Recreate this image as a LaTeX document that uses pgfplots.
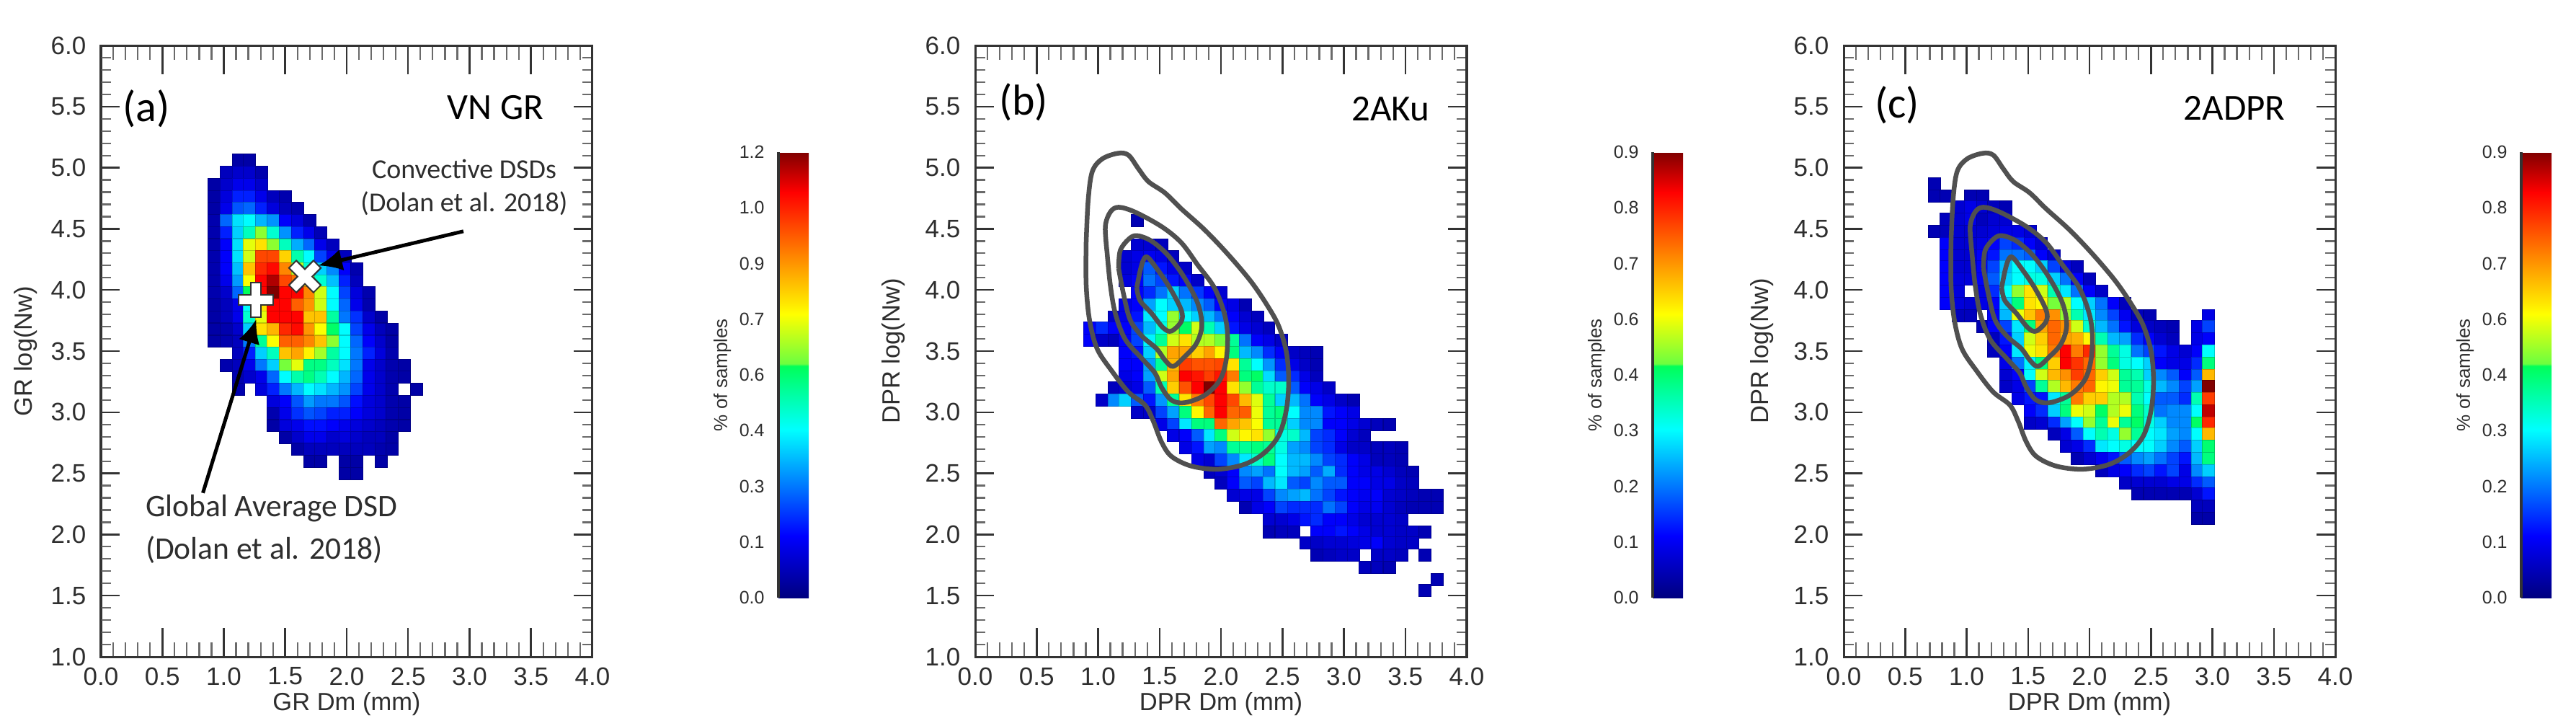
\documentclass[border=0pt]{standalone}
\usepackage{pgfplots}
\usepackage{pgfplotstable}
\usepackage{fontspec}
\pgfplotsset{compat=1.18}
\usetikzlibrary{arrows.meta}
\setmainfont{Liberation Sans}
\newfontfamily\callout{Carlito}

\definecolor{axisc}{HTML}{333333}
\definecolor{minorc}{HTML}{6A6A6A}
\definecolor{textc}{HTML}{2E2E2E}
\definecolor{contc}{HTML}{505050}

% panel (a): rows are log(Nw), columns are Dm, cell values in 1/100 of a percent
\pgfplotstableread[header=true]{
y 0.92 1.02 1.12 1.21 1.31  1.40 1.50 1.60 1.70 1.79  1.89 1.99 2.08 2.18 2.28  2.37 2.47 2.57
5.06 0 0 5 5 0  0 0 0 0 0  0 0 0 0 0  0 0 0
4.96 0 8 10 10 6  0 0 0 0 0  0 0 0 0 0  0 0 0
4.86 5 10 14 14 10  0 0 0 0 0  0 0 0 0 0  0 0 0
4.76 5 12 20 20 14  8 6 0 0 0  0 0 0 0 0  0 0 0
4.67 5 14 26 28 20  12 8 6 0 0  0 0 0 0 0  0 0 0
4.57 6 28 42 45 37  33 16 12 6 0  0 0 0 0 0  0 0 0
4.47 6 20 40 52 66  50 33 20 14 7  0 0 0 0 0  0 0 0
4.37 6 16 42 74 80  66 52 36 28 14  8 0 0 0 0  0 0 0
4.27 6 16 42 72 100  100 82 54 45 24  14 8 0 0 0  0 0 0
4.17 6 16 38 84 104  108 92 70 50 40  32 16 6 0 0  0 0 0
4.07 6 14 34 76 109  116 100 95 80 50  38 20 8 0 0  0 0 0
3.98 6 10 28 62 109  120 109 109 92 72  45 24 12 6 0  0 0 0
3.88 5 8 14 45 80  109 109 97 90 72  45 28 14 6 0  0 0 0
3.78 5 8 14 50 74  109 109 109 84 84  55 30 22 10 5  0 0 0
3.68 5 6 10 40 80  86 104 108 90 76  61 45 24 14 8  5 0 0
3.58 5 6 8 30 56  76 97 97 92 84  66 45 28 16 10  5 0 0
3.48 0 0 8 20 40  52 84 88 78 68  55 45 30 20 12  6 0 0
3.38 0 6 8 14 30  40 64 74 58 58  52 42 30 14 10  6 5 0
3.29 0 0 6 10 14  28 45 54 58 53  45 37 28 14 10  6 5 0
3.19 0 0 6 0 12  20 30 37 45 42  37 33 24 14 10  6 0 5
3.09 0 0 0 0 0  12 16 26 34 30  30 26 18 12 10  6 5 0
2.99 0 0 0 0 0  6 14 22 26 24  20 20 16 12 10  6 5 0
2.89 0 0 0 0 0  5 12 14 18 18  16 14 12 10 8  6 5 0
2.79 0 0 0 0 0  0 5 10 14 14  10 12 10 8 8  5 0 0
2.70 0 0 0 0 0  0 0 5 8 8  8 8 8 8 6  5 0 0
2.60 0 0 0 0 0  0 0 0 5 5  0 5 5 0 5  0 0 0
2.50 0 0 0 0 0  0 0 0 0 0  0 5 5 0 0  0 0 0
}\tabA

% panel (b)
\pgfplotstableread[header=true]{
y 0.93 1.03 1.13 1.22 1.32  1.42 1.52 1.61 1.71 1.81  1.91 2.00 2.10 2.20 2.30  2.39 2.49 2.59 2.69 2.78  2.88 2.98 3.08 3.17 3.27  3.37 3.47 3.56 3.66 3.76
4.57 0 0 0 0 5  0 0 0 0 0  0 0 0 0 0  0 0 0 0 0  0 0 0 0 0  0 0 0 0 0
4.37 0 0 0 0 8  8 6 0 0 0  0 0 0 0 0  0 0 0 0 0  0 0 0 0 0  0 0 0 0 0
4.27 0 0 0 8 10  11 10 6 0 0  0 0 0 0 0  0 0 0 0 0  0 0 0 0 0  0 0 0 0 0
4.18 0 0 0 8 10  20 14 10 7 0  0 0 0 0 0  0 0 0 0 0  0 0 0 0 0  0 0 0 0 0
4.08 0 0 0 9 12  22 18 14 12 7  0 0 0 0 0  0 0 0 0 0  0 0 0 0 0  0 0 0 0 0
3.98 0 0 0 0 12  16 22 30 22 17  12 8 0 0 0  0 0 0 0 0  0 0 0 0 0  0 0 0 0 0
3.88 0 0 0 10 12  26 34 30 28 24  20 12 10 5 0  0 0 0 0 0  0 0 0 0 0  0 0 0 0 0
3.78 0 0 7 10 14  32 34 50 34 30  28 22 12 8 6  0 0 0 0 0  0 0 0 0 0  0 0 0 0 0
3.69 12 16 12 12 18  28 36 50 46 54  40 30 14 10 8  6 0 0 0 0  0 0 0 0 0  0 0 0 0 0
3.59 12 7 6 12 18  33 42 54 60 52  52 48 42 22 12  10 7 0 0 0  0 0 0 0 0  0 0 0 0 0
3.49 0 0 0 12 14  30 52 66 66 62  66 58 44 28 24  16 12 7 6 5  0 0 0 0 0  0 0 0 0 0
3.39 0 0 0 12 12  26 42 64 76 74  74 75 60 42 34  25 16 10 7 5  0 0 0 0 0  0 0 0 0 0
3.29 0 0 0 10 12  26 54 66 82 80  76 80 70 44 46  31 20 16 10 6  0 0 0 0 0  0 0 0 0 0
3.20 0 0 6 8 10  20 40 62 74 82  90 82 60 50 42  38 38 20 12 10  7 0 0 0 0  0 0 0 0 0
3.10 0 7 24 30 20  14 25 42 60 70  75 82 75 64 55  42 30 28 22 12  10 7 5 0 0  0 0 0 0 0
3.00 0 0 0 0 7  7 18 26 44 58  72 82 72 73 56  42 44 34 24 24  14 12 10 0 0  0 0 0 0 0
2.90 0 0 0 0 0  0 10 18 32 44  44 72 66 63 57  42 42 30 24 24  12 12 10 8 6  5 0 0 0 0
2.81 0 0 0 0 0  0 0 10 12 20  32 44 54 58 60  50 36 38 28 18  16 12 8 6 0  0 0 0 0 0
2.71 0 0 0 0 0  0 0 0 10 14  26 24 42 42 44  42 36 26 24 18  16 10 7 7 6  6 5 0 0 0
2.61 0 0 0 0 0  0 0 0 0 10  8 18 24 32 38  44 34 28 28 24  18 16 12 10 6  6 5 0 0 0
2.51 0 0 0 0 0  0 0 0 0 0  6 8 12 24 26  22 34 28 26 20  27 16 12 10 10  8 6 5 0 0
2.42 0 0 0 0 0  0 0 0 0 0  0 6 12 20 18  28 32 20 18 24  20 20 12 12 10  10 7 6 0 0
2.32 0 0 0 0 0  0 0 0 0 0  0 0 8 10 10  18 24 26 28 22  18 14 12 11 12  8 7 6 5 5
2.22 0 0 0 0 0  0 0 0 0 0  0 0 0 5 10  12 18 16 16 16  22 18 12 10 11  8 6 5 5 5
2.12 0 0 0 0 0  0 0 0 0 0  0 0 0 0 0  8 8 10 14 16  12 12 10 8 8  8 7 0 0 0
2.02 0 0 0 0 0  0 0 0 0 0  0 0 0 0 0  5 6 6 0 12  12 14 12 10 8  8 7 7 5 0
1.93 0 0 0 0 0  0 0 0 0 0  0 0 0 0 0  0 0 0 7 7  8 8 9 10 12  8 7 7 0 0
1.83 0 0 0 0 0  0 0 0 0 0  0 0 0 0 0  0 0 0 0 5  6 7 7 0 7  7 6 0 5 0
1.73 0 0 0 0 0  0 0 0 0 0  0 0 0 0 0  0 0 0 0 0  0 0 0 6 6  5 0 0 0 0
1.63 0 0 0 0 0  0 0 0 0 0  0 0 0 0 0  0 0 0 0 0  0 0 0 0 0  0 0 0 0 5
1.54 0 0 0 0 0  0 0 0 0 0  0 0 0 0 0  0 0 0 0 0  0 0 0 0 0  0 0 0 5 0
}\tabB

% panel (c)
\pgfplotstableread[header=true]{
y 0.74 0.83 0.93 1.03 1.13  1.22 1.32 1.42 1.52 1.61  1.71 1.81 1.90 2.00 2.10  2.20 2.29 2.39 2.49 2.58  2.68 2.78 2.88 2.97
4.87 5 0 0 0 0  0 0 0 0 0  0 0 0 0 0  0 0 0 0 0  0 0 0 0
4.77 5 5 0 5 5  0 0 0 0 0  0 0 0 0 0  0 0 0 0 0  0 0 0 0
4.68 0 0 8 10 8  6 5 0 0 0  0 0 0 0 0  0 0 0 0 0  0 0 0 0
4.58 0 6 8 10 6  8 8 0 0 0  0 0 0 0 0  0 0 0 0 0  0 0 0 0
4.48 5 6 8 8 8  9 10 10 8 0  0 0 0 0 0  0 0 0 0 0  0 0 0 0
4.38 0 12 8 8 10  12 18 16 12 8  0 0 0 0 0  0 0 0 0 0  0 0 0 0
4.28 0 12 8 8 12  14 22 22 20 12  8 0 0 0 0  0 0 0 0 0  0 0 0 0
4.19 0 12 8 8 12  18 28 34 34 30  18 10 6 0 0  0 0 0 0 0  0 0 0 0
4.09 0 12 9 9 12  20 30 34 36 36  30 22 12 6 0  0 0 0 0 0  0 0 0 0
3.99 0 12 9 0 10  16 34 50 60 54  40 32 22 12 7  0 0 0 0 0  0 0 0 0
3.89 0 12 9 8 10  12 30 44 60 58  48 52 34 30 22  12 6 0 0 0  0 0 0 0
3.79 0 0 6 6 0  12 28 56 63 70  68 50 40 32 24  18 11 6 5 0  0 0 0 10
3.70 0 0 0 0 5  12 18 32 44 66  72 68 54 38 28  22 14 9 7 6  5 0 10 18
3.60 0 0 0 0 0  6 14 30 54 62  72 66 65 58 40  28 26 16 12 8  6 0 10 12
3.50 0 0 0 0 0  6 12 32 56 60  70 82 70 78 50  42 36 22 18 14  10 8 12 34
3.40 0 0 0 0 0  0 10 22 33 44  62 82 77 72 50  44 36 34 30 12  10 10 16 44
3.30 0 0 0 0 0  0 8 12 34 54  64 68 76 72 62  54 42 40 30 24  20 12 20 64
3.21 0 0 0 0 0  0 7 10 18 42  52 64 70 72 58  56 42 42 36 28  24 18 26 90
3.11 0 0 0 0 0  0 0 10 14 14  32 42 70 62 62  52 52 40 34 20  20 16 40 76
3.01 0 0 0 0 0  0 0 0 12 16  30 44 56 54 46  52 56 44 38 22  24 24 34 86
2.91 0 0 0 0 0  0 0 0 7 8  16 26 34 50 42  56 42 46 36 30  24 24 46 78
2.82 0 0 0 0 0  0 0 0 0 0  6 10 20 34 40  36 50 42 34 32  26 24 34 64
2.72 0 0 0 0 0  0 0 0 0 0  0 8 10 16 32  34 36 34 34 30  24 20 30 45
2.62 0 0 0 0 0  0 0 0 0 0  0 0 5 8 11  14 20 24 26 22  18 14 28 44
2.52 0 0 0 0 0  0 0 0 0 0  0 0 0 0 6  10 12 16 18 14  18 10 24 30
2.42 0 0 0 0 0  0 0 0 0 0  0 0 0 0 0  0 7 8 8 8  10 10 16 20
2.33 0 0 0 0 0  0 0 0 0 0  0 0 0 0 0  0 0 5 5 5  5 5 8 14
2.23 0 0 0 0 0  0 0 0 0 0  0 0 0 0 0  0 0 0 0 0  0 0 6 6
2.13 0 0 0 0 0  0 0 0 0 0  0 0 0 0 0  0 0 0 0 0  0 0 4 4
}\tabC

% VN GR contours, drawn over panels (b) and (c)
\pgfplotstableread{
x y
0.903 4.387
0.919 4.729
0.952 4.966
1.032 5.071
1.161 5.118
1.247 5.103
1.328 4.992
1.409 4.887
1.543 4.795
1.677 4.664
1.866 4.493
2.054 4.295
2.242 4.072
2.376 3.875
2.470 3.704
2.532 3.493
2.551 3.257
2.532 3.020
2.470 2.810
2.349 2.665
2.188 2.573
1.973 2.534
1.758 2.560
1.597 2.639
1.516 2.757
1.449 2.928
1.382 3.059
1.247 3.165
1.113 3.336
0.992 3.520
0.930 3.756
0.903 4.045
0.903 4.387
}\contA
\pgfplotstableread{
x y
1.073 4.308
1.059 4.519
1.099 4.637
1.167 4.677
1.301 4.637
1.516 4.519
1.677 4.387
1.812 4.203
1.946 4.019
2.027 3.809
2.054 3.625
2.040 3.414
1.987 3.257
1.866 3.138
1.704 3.078
1.597 3.099
1.516 3.204
1.462 3.322
1.355 3.441
1.220 3.598
1.140 3.809
1.099 4.045
1.073 4.308
}\contB
\pgfplotstableread{
x y
1.167 4.177
1.180 4.322
1.247 4.414
1.315 4.445
1.435 4.400
1.570 4.282
1.704 4.098
1.812 3.888
1.844 3.704
1.798 3.559
1.704 3.454
1.610 3.375
1.543 3.428
1.476 3.520
1.355 3.625
1.261 3.756
1.207 3.967
1.167 4.177
}\contC
\pgfplotstableread{
x y
1.315 4.019
1.341 4.151
1.368 4.243
1.401 4.269
1.476 4.177
1.583 4.019
1.677 3.835
1.677 3.743
1.597 3.664
1.530 3.690
1.435 3.809
1.341 3.914
1.315 4.019
}\contD

\pgfplotsset{
  colormap={idl}{rgb(0pt)=(0,0,0.5); rgb(138pt)=(0,0,1); rgb(377pt)=(0,1,1); rgb(520pt)=(0,1,0.35); rgb(525pt)=(0.42,1,0.25); rgb(636pt)=(1,1,0); rgb(910pt)=(1,0,0); rgb(1000pt)=(0.5,0,0)},
  panel/.style={
    scale only axis, width=136.4pt, height=169.6pt,
    xmin=0, xmax=4, ymin=1, ymax=6,
    tick align=inside, clip marker paths=true,
    axis line style={line width=0.6pt, draw=axisc},
    major tick style={line width=0.5pt, draw=axisc},
    minor tick style={line width=0.45pt, draw=minorc},
    tick label style={font=\fontsize{7}{8}\selectfont, text=textc},
    label style={font=\fontsize{6.9}{8}\selectfont, text=textc},
  },
  xpanel/.style={panel,
    xtick={0,0.5,...,4}, xticklabels={0.0,0.5,1.0,1.5,2.0,2.5,3.0,3.5,4.0},
    minor x tick num=4, ytick=\empty,
    major tick length=8pt, minor tick length=4pt,
    xticklabel style={yshift=0.6pt},
    x label style={at={(axis description cs:0.5,-0.077)}, anchor=center},
  },
  ypanel/.style={panel,
    ytick={1,1.5,...,6}, yticklabels={1.0,1.5,2.0,2.5,3.0,3.5,4.0,4.5,5.0,5.5,6.0},
    minor y tick num=4, xtick=\empty,
    major tick length=5.2pt, minor tick length=2.8pt,
    yticklabel style={xshift=-0.6pt},
  },
  bar/.style={
    colorbar,
    colorbar style={
      at={(parent axis.south west)}, anchor=south west, xshift=179.5pt, yshift=16.4pt,
      scale only axis, width=8.4pt, height=123.6pt,
      axis line style={draw=none},
      ticklabel pos=left, major tick length=0pt,
      yticklabel style={font=\fontsize{5}{6}\selectfont, text=textc, xshift=-0.4pt},
      ylabel={\% of samples},
      ylabel style={font=\fontsize{5.2}{6}\selectfont, text=textc,
        at={(axis description cs:-1.86,0.5)}, anchor=center},
      after end axis/.code={\draw[axisc, line width=0.7pt] (rel axis cs:0,0) -- (rel axis cs:0,1);},
      #1
    },
  },
  cell/.style={scatter, only marks, mark=square*, mark size=1.69pt,
    point meta=explicit, mark options={line width=0pt}, forget plot},
  cont/.style={smooth, tension=0.55, draw=contc, line width=1.3pt, line join=round, forget plot},
}

\newcommand{\cells}[2]{%
  \pgfplotsinvokeforeach{#1}{%
    \addplot[cell] table[x expr=##1, y expr={\thisrow{##1}>0 ? \thisrow{y} : nan}, meta expr={\thisrow{##1}/100}] {#2};
  }%
}

\newcommand{\tag}[1]{\fontsize{12}{14}\selectfont\callout #1}
\newcommand{\name}[1]{\fontsize{10.2}{12}\selectfont\callout #1}

\begin{document}
\begin{tikzpicture}
\useasboundingbox (0,0) rectangle (714.8pt,201.2pt);

% ---- (a)
\begin{axis}[xpanel, name=a, at={(28pt,19pt)}, anchor=south west,
    xlabel={GR Dm (mm)}, point meta min=0, point meta max=1.2,
    bar={ytick={0,0.15,...,1.2}, yticklabels={0.0,0.1,0.3,0.4,0.6,0.7,0.9,1.0,1.2}}]
  \cells{0.92,1.02,1.12,1.21,1.31,1.40,1.50,1.60,1.70,1.79,1.89,1.99,2.08,2.18,2.28,2.37,2.47,2.57}{\tabA}
  \addplot[only marks, mark=+, mark size=5pt, mark options={draw=axisc, line width=3.3pt}, forget plot] coordinates {(1.26,3.92)};
  \addplot[only marks, mark=+, mark size=4.6pt, mark options={draw=white, line width=2.4pt}, forget plot] coordinates {(1.26,3.92)};
  \addplot[only marks, mark=x, mark size=5pt, mark options={draw=axisc, line width=3.3pt}, forget plot] coordinates {(1.66,4.11)};
  \addplot[only marks, mark=x, mark size=4.6pt, mark options={draw=white, line width=2.4pt}, forget plot] coordinates {(1.66,4.11)};
  \draw[-{Latex[length=6.6pt,width=6pt]}, line width=1pt] (axis cs:0.83,2.34) -- (axis cs:1.264,3.76);
  \draw[-{Latex[length=6.6pt,width=6pt]}, line width=1pt] (axis cs:2.95,4.48) -- (axis cs:1.77,4.20);
  \node[text=black] at (axis cs:0.37,5.484) {\tag{(a)}};
  \node[text=black] at (axis cs:3.21,5.49) {\name{VN GR}};
  \node[text=textc, font=\fontsize{7.6}{9}\selectfont\callout] at (axis cs:2.956,4.99) {Convective DSDs};
  \node[text=textc, font=\fontsize{7.6}{9}\selectfont\callout] at (axis cs:2.956,4.706) {(Dolan et al. 2018)};
  \node[text=textc, anchor=west, inner sep=0pt, font=\fontsize{8.7}{10}\selectfont\callout] at (axis cs:0.358,2.212) {Global Average DSD};
  \node[text=textc, anchor=west, inner sep=0pt, font=\fontsize{8.7}{10}\selectfont\callout] at (axis cs:0.358,1.876) {(Dolan et al. 2018)};
\end{axis}
\begin{axis}[ypanel, at={(28pt,19pt)}, anchor=south west, ylabel={GR log(Nw)},
    y label style={at={(axis description cs:-0.1525,0.5)}, anchor=center}]
\end{axis}

% ---- (b)
\begin{axis}[xpanel, at={(270.6pt,19pt)}, anchor=south west,
    xlabel={DPR Dm (mm)}, point meta min=0, point meta max=0.9,
    bar={ytick={0,0.1125,...,0.9}, yticklabels={0.0,0.1,0.2,0.3,0.4,0.6,0.7,0.8,0.9}}]
  \cells{0.93,1.03,1.13,1.22,1.32,1.42,1.52,1.61,1.71,1.81,1.91,2.00,2.10,2.20,2.30,2.39,2.49,2.59,2.69,2.78,2.88,2.98,3.08,3.17,3.27,3.37,3.47,3.56,3.66,3.76}{\tabB}
  \addplot[cont] table {\contA};
  \addplot[cont] table {\contB};
  \addplot[cont] table {\contC};
  \addplot[cont] table {\contD};
  \node[text=black] at (axis cs:0.393,5.537) {\tag{(b)}};
  \node[text=black] at (axis cs:3.38,5.48) {\name{2AKu}};
\end{axis}
\begin{axis}[ypanel, at={(270.6pt,19pt)}, anchor=south west, ylabel={DPR log(Nw)},
    y label style={at={(axis description cs:-0.167,0.5)}, anchor=center}]
\end{axis}

% ---- (c)
\begin{axis}[xpanel, at={(511.6pt,19pt)}, anchor=south west,
    xlabel={DPR Dm (mm)}, point meta min=0, point meta max=0.9,
    bar={ytick={0,0.1125,...,0.9}, yticklabels={0.0,0.1,0.2,0.3,0.4,0.6,0.7,0.8,0.9}}]
  \cells{0.74,0.83,0.93,1.03,1.13,1.22,1.32,1.42,1.52,1.61,1.71,1.81,1.90,2.00,2.10,2.20,2.29,2.39,2.49,2.58,2.68,2.78,2.88,2.97}{\tabC}
  \addplot[cont] table[x expr=\thisrow{x}-0.03, y=y] {\contA};
  \addplot[cont] table[x expr=\thisrow{x}-0.03, y=y] {\contB};
  \addplot[cont] table[x expr=\thisrow{x}-0.03, y=y] {\contC};
  \addplot[cont] table[x expr=\thisrow{x}-0.03, y=y] {\contD};
  \node[text=black] at (axis cs:0.434,5.51) {\tag{(c)}};
  \node[text=black] at (axis cs:3.18,5.49) {\name{2ADPR}};
\end{axis}
\begin{axis}[ypanel, at={(511.6pt,19pt)}, anchor=south west, ylabel={DPR log(Nw)},
    y label style={at={(axis description cs:-0.167,0.5)}, anchor=center}]
\end{axis}
\end{tikzpicture}
\end{document}
